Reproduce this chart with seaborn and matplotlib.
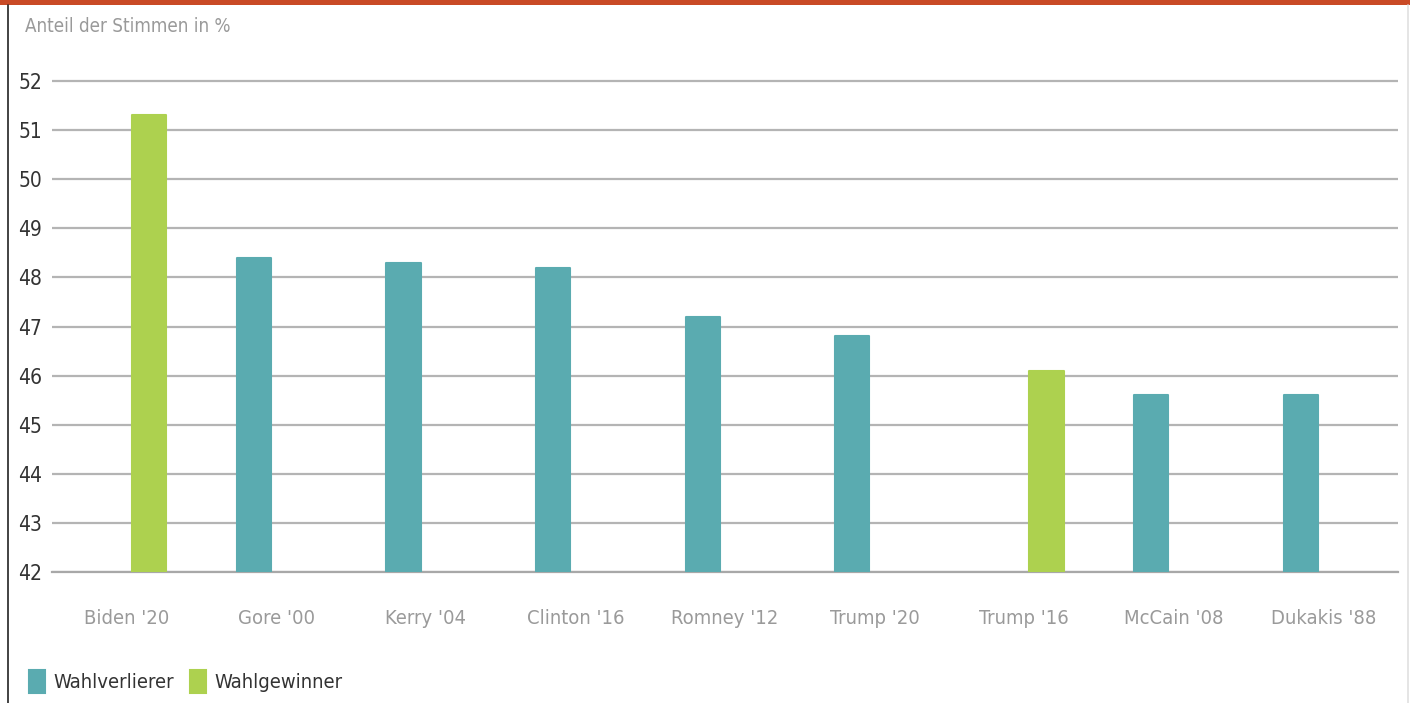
import pandas as pd
import matplotlib.pyplot as plt
from matplotlib.patches import Patch, Rectangle
from matplotlib.lines import Line2D
import seaborn as sns

# data
candidates = ["Biden '20", "Gore '00", "Kerry '04", "Clinton '16", "Romney '12",
              "Trump '20", "Trump '16", "McCain '08", "Dukakis '88"]
share = [51.3, 48.4, 48.3, 48.2, 47.2, 46.8, 46.1, 45.6, 45.6]
groups = ["Wahlgewinner", "Wahlverlierer", "Wahlverlierer", "Wahlverlierer", "Wahlverlierer",
          "Wahlverlierer", "Wahlgewinner", "Wahlverlierer", "Wahlverlierer"]
group_order = ["Wahlverlierer", "Wahlgewinner"]
y_ticks = [42, 43, 44, 45, 46, 47, 48, 49, 50, 51, 52]

teal = "#5aabb0"
green = "#add14f"
palette = {"Wahlverlierer": teal, "Wahlgewinner": green}

df = pd.DataFrame({"candidate": candidates, "share": share, "group": groups})

sns.set_theme(style="white")
plt.rcParams["font.family"] = ["DejaVu Sans"]
plt.rcParams["font.stretch"] = "condensed"

fig = plt.figure(figsize=(14.1, 7.03), dpi=100)
ax = fig.add_axes([52 / 1410, 1 - 572 / 703, (1398 - 52) / 1410, (572 - 66.3) / 703])

sns.barplot(data=df, x="candidate", y="share", hue="group", hue_order=group_order,
            palette=palette, order=candidates, width=0.6, gap=0.24, dodge=True,
            saturation=1, legend=False, ax=ax, zorder=3)

for bar in ax.patches:
    bar.set_edgecolor(bar.get_facecolor())
    bar.set_linewidth(1.5)
    bar.set_joinstyle("round")

ax.set_ylim(42, 52.3)
ax.set_xlim(-0.5, len(candidates) - 0.5)
ax.set_yticks(y_ticks)
ax.yaxis.grid(True, color="#b4b4b4", linewidth=1.6, zorder=0)
ax.set_axisbelow(True)
for s in ["top", "right", "left"]:
    ax.spines[s].set_visible(False)
ax.spines["bottom"].set_color("#a8a8a8")
ax.spines["bottom"].set_linewidth(1.6)
ax.tick_params(axis="y", length=0, pad=7, labelsize=15, labelcolor="#333333")
ax.tick_params(axis="x", length=0, pad=27, labelsize=14.5, labelcolor="#9a9a9a")
ax.set_xlabel("")
ax.set_ylabel("")

fig.text(25 / 1410, 1 - 27 / 703, "Anteil der Stimmen in %", fontsize=13.5,
         color="#9a9a9a", va="center", ha="left")

# frame decorations
fig.patches.append(Rectangle((0, 1 - 5 / 703), 1, 5 / 703, transform=fig.transFigure,
                             facecolor="#c94a26", edgecolor="none"))
fig.lines.append(Line2D([7.5 / 1410, 7.5 / 1410], [0, 1 - 5 / 703], transform=fig.transFigure,
                        color="#222222", linewidth=1.2))
fig.lines.append(Line2D([1408 / 1410, 1408 / 1410], [0, 1 - 5 / 703], transform=fig.transFigure,
                        color="#e0e0e0", linewidth=1.2))

handles = [Patch(facecolor=palette[g], edgecolor=palette[g], joinstyle="round", linewidth=1.5, label=g)
           for g in group_order]
fig.legend(handles=handles, loc="lower left", bbox_to_anchor=(11 / 1410, -8 / 703), ncol=2,
           frameon=False, fontsize=14.5, handlelength=0.8, handleheight=1.4,
           handletextpad=0.4, columnspacing=0.8, labelcolor="#333333")

fig.savefig("out.png", dpi=100)
